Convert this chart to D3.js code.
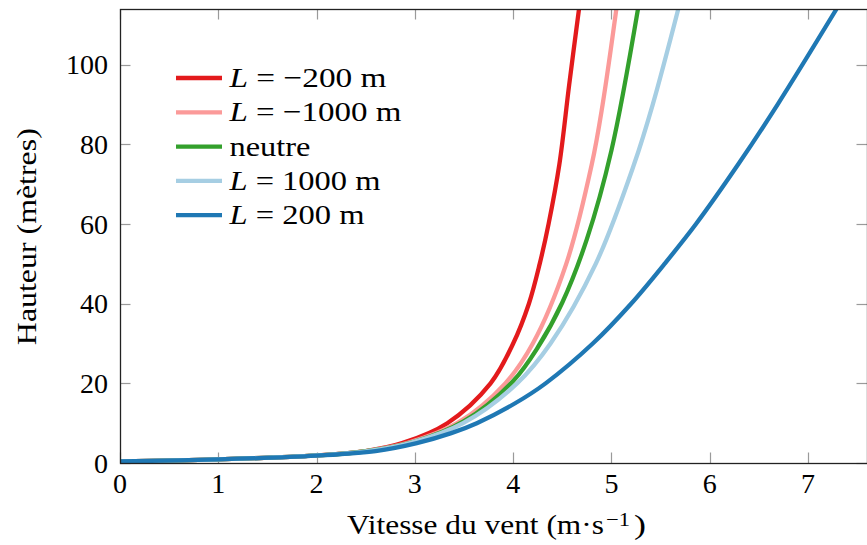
<!DOCTYPE html>
<html>
<head>
<meta charset="utf-8">
<script src="https://cdn.jsdelivr.net/npm/d3@7"></script>
<style>
  html, body { margin: 0; padding: 0; background: #fff; }
  svg { display: block; }
</style>
</head>
<body>
<svg id="chart" width="867" height="545"></svg>
<script>
// ---- data (wind speed m/s, height m) ----
const seriesNames = ["L = \u2212200 m", "L = \u22121000 m", "neutre", "L = 1000 m", "L = 200 m"];
const seriesColors = ["#e31a1c", "#fb9a99", "#33a02c", "#a6cee3", "#1f78b4"];

const unstable200 = [[0,0.4],[1,0.9],[2,1.9],[2.5,3.0],[2.87,5],[3.33,10],[3.77,20],[4.0,30],[4.16,40],[4.27,50],[4.36,60],[4.47,75],[4.57,95],[4.67,114]];
const unstable1000 = [[0,0.4],[1,0.9],[2,1.9],[2.5,3.0],[2.92,5],[3.43,10],[3.92,20],[4.2,30],[4.54,50],[4.8,75],[4.91,90],[5.05,114]];
const neutral = [[0,0.4],[1,0.9],[2,1.9],[2.5,2.95],[3,5.4],[3.5,10.5],[4,20.6],[4.25,29],[4.5,40.3],[4.75,56.2],[5,78.5],[5.27,114]];
const stable1000 = [[0,0.4],[1,0.9],[2,1.9],[2.5,2.9],[2.95,5],[3.49,10],[4.04,20],[4.38,30],[4.84,50],[5.23,75],[5.42,90],[5.68,114]];
const stable200 = [[0,0.4],[1,0.9],[2,1.85],[2.6,3],[3.02,5],[3.37,7.5],[3.63,10],[4.02,15],[4.33,20],[4.81,30],[5.2,40],[5.54,50],[5.86,60],[6.29,75],[6.69,90],[7.29,114]];
const seriesData = [unstable200, unstable1000, neutral, stable1000, stable200];

const xTicks = [0,1,2,3,4,5,6,7];
const yTicks = [0,20,40,60,80,100];
const xDomain = [0, 7.6];
const yDomain = [0, 114];
const xLabel = "Vitesse du vent (m\u00b7s";
const xLabelSup = "\u22121";
const yLabel = "Hauteur (m\u00e8tres)";

(function () {
const svg = d3.select("#chart");
const pl = 120, pr = 867, pt = 9, pb = 463;
const x = d3.scaleLinear().domain(xDomain).range([pl, pr]);
const y = d3.scaleLinear().domain(yDomain).range([pb, pt]);
const fs = 28;
const ff = "'Liberation Serif'";
function txt(sel) { return sel.append("text").attr("font-family", ff); }
// stretch a text horizontally (geometric transform) to a target width
function fit(t, target, ax, pre) {
  const w = t.node().getComputedTextLength();
  if (!(w > 0)) return;
  const s = target / w;
  t.attr("transform", (pre || "") + `translate(${ax},0) scale(${s},1) translate(${-ax},0)`);
}

svg.append("defs").append("clipPath").attr("id", "clip")
  .append("rect").attr("x", pl).attr("y", pt).attr("width", pr - pl).attr("height", pb - pt);

// inside ticks on all four sides
const tickLen = 10.5;
const tickG = svg.append("g").attr("stroke", "#9a9a9a").attr("stroke-width", 1.2);
xTicks.forEach(t => {
  const px = Math.round(x(t)) + 0.5;
  tickG.append("line").attr("x1", px).attr("x2", px).attr("y1", pb).attr("y2", pb - tickLen);
  tickG.append("line").attr("x1", px).attr("x2", px).attr("y1", pt).attr("y2", pt + tickLen);
});
yTicks.forEach(t => {
  const py = Math.round(y(t)) + 0.5;
  tickG.append("line").attr("x1", pl).attr("x2", pl + tickLen).attr("y1", py).attr("y2", py);
  tickG.append("line").attr("x1", pr).attr("x2", pr - tickLen).attr("y1", py).attr("y2", py);
});

// curves
const line = d3.line().x(d => x(d[0])).y(d => y(d[1])).curve(d3.curveCatmullRom.alpha(0.5));
const curves = svg.append("g").attr("clip-path", "url(#clip)");
seriesData.forEach((s, i) => {
  curves.append("path").datum(s)
    .attr("d", line)
    .attr("fill", "none")
    .attr("stroke", seriesColors[i])
    .attr("stroke-width", 4.3)
    .attr("stroke-linejoin", "round");
});

// frame
svg.append("rect").attr("x", pl + 0.5).attr("y", pt + 0.5)
  .attr("width", pr - pl).attr("height", pb - pt)
  .attr("fill", "none").attr("stroke", "#222").attr("stroke-width", 1.3);

// tick labels
xTicks.forEach(t => {
  txt(svg).attr("x", x(t)).attr("y", 493)
    .attr("text-anchor", "middle").attr("font-size", fs).text(t);
});
yTicks.forEach(t => {
  txt(svg).attr("x", 108).attr("y", y(t) + 9.5)
    .attr("text-anchor", "end").attr("font-size", fs).text(t);
});

// x axis label
const xl = txt(svg).attr("x", 347).attr("y", 534).attr("font-size", fs).text(xLabel);
fit(xl, 257, 347);
const xs = txt(svg).attr("x", 606).attr("y", 526).attr("font-size", 19).text(xLabelSup);
fit(xs, 24, 606);
const xp = txt(svg).attr("x", 634).attr("y", 534).attr("font-size", fs).text(")");
fit(xp, 12, 634);

// y axis label
const yl = txt(svg).attr("x", 0).attr("y", 0)
  .attr("text-anchor", "middle").attr("font-size", fs).text(yLabel);
fit(yl, 217, 0, "translate(36,236.7) rotate(-90) ");

// legend
const legendY0 = 78, legendDy = 34.3;
const legendWidths = [157, 172, 81, 151, 135];
const lg = svg.append("g");
seriesNames.forEach((name, i) => {
  const ly = legendY0 + i * legendDy;
  lg.append("line").attr("x1", 176).attr("x2", 222).attr("y1", ly).attr("y2", ly)
    .attr("stroke", seriesColors[i]).attr("stroke-width", 4.3);
  const t = txt(lg).attr("x", 229.5).attr("y", ly + 9).attr("font-size", fs);
  if (name.startsWith("L")) {
    t.append("tspan").attr("font-style", "italic").text("L");
    t.append("tspan").text(name.slice(1));
  } else {
    t.text(name);
  }
  fit(t, legendWidths[i], 229.5);
});
})();
</script>
</body>
</html>
